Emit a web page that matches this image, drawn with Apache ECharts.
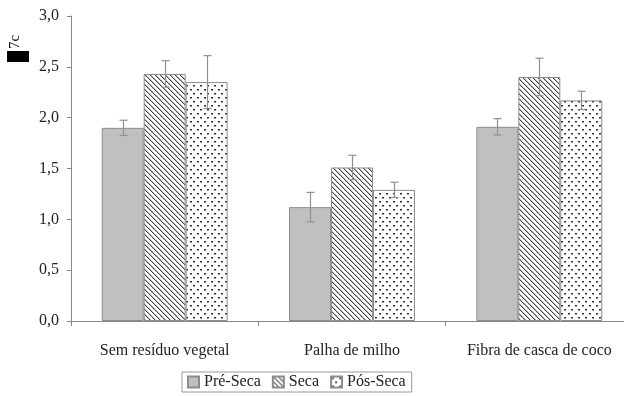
<!DOCTYPE html>
<html>
<head>
<meta charset="utf-8">
<script src="https://cdn.jsdelivr.net/npm/echarts@6/dist/echarts.min.js"></script>
<style>
  html, body { margin: 0; padding: 0; background: #fff; }
  #chart { width: 624px; height: 396px; }
</style>
</head>
<body>
<div id="chart"></div>
<script>
// Treatments (x categories)
const categories = ['Sem resíduo vegetal', 'Palha de milho', 'Fibra de casca de coco'];
// Period series names
const seriesNames = ['Pré-Seca', 'Seca', 'Pós-Seca'];
// Mean values per period
const preSeca = [1.90, 1.12, 1.91];
const seca    = [2.43, 1.51, 2.40];
const posSeca = [2.35, 1.29, 2.17];
// Error bar half-lengths per period
const preSecaErr = [0.075, 0.145, 0.08];
const secaErr    = [0.13, 0.12, 0.185];
const posSecaErr = [0.26, 0.075, 0.09];
// Y axis ticks
const yTicks = [0, 0.5, 1.0, 1.5, 2.0, 2.5, 3.0];

const FONT = '"Liberation Serif", "DejaVu Serif", serif';
const CAT_GAP = 0.328;

// Fill patterns
function hatchPattern() {
  const c = document.createElement('canvas');
  c.width = 5; c.height = 5;
  const g = c.getContext('2d');
  g.fillStyle = '#ffffff';
  g.fillRect(0, 0, 5, 5);
  for (let i = 0; i < 5; i++) {
    g.fillStyle = '#404040';
    g.fillRect(i, i, 1, 1);
    g.fillStyle = '#bdbdbd';
    g.fillRect((i + 1) % 5, i, 1, 1);
  }
  return c;
}
function dotPattern() {
  const c = document.createElement('canvas');
  c.width = 7; c.height = 8;
  const g = c.getContext('2d');
  g.fillStyle = '#ffffff';
  g.fillRect(0, 0, 7, 8);
  g.fillStyle = '#2a2a2a';
  g.fillRect(1, 1, 2, 1);
  g.fillRect(4, 5, 2, 1);
  g.fillStyle = '#9a9a9a';
  g.fillRect(1, 2, 2, 1);
  g.fillRect(4, 6, 2, 1);
  return c;
}

const fills = [
  '#c0c0c0',
  { image: hatchPattern(), repeat: 'repeat' },
  { image: dotPattern(), repeat: 'repeat' }
];
const values = [preSeca, seca, posSeca];
const errors = [preSecaErr, secaErr, posSecaErr];

const barSeries = seriesNames.map((name, k) => ({
  name: name,
  type: 'bar',
  data: values[k],
  barGap: '0%',
  barCategoryGap: (CAT_GAP * 100) + '%',
  itemStyle: { color: fills[k], borderColor: '#8c8c8c', borderWidth: 1 },
  emphasis: { disabled: true },
  z: 2
}));

const errData = [];
for (let k = 0; k < 3; k++) {
  for (let i = 0; i < categories.length; i++) {
    errData.push([i, values[k][i] - errors[k][i], values[k][i] + errors[k][i], k]);
  }
}

const errorSeries = {
  type: 'custom',
  name: 'err',
  data: errData,
  z: 5,
  silent: true,
  encode: { x: 0, y: [1, 2] },
  renderItem: function (params, api) {
    const i = api.value(0);
    const k = api.value(3);
    const catW = api.size([1, 0])[0];
    const barW = catW * (1 - CAT_GAP) / 3;
    const off = (k - 1) * barW;
    const lo = api.coord([i, api.value(1)]);
    const hi = api.coord([i, api.value(2)]);
    const x = Math.round(lo[0] + off) + 0.5;
    const cap = 4;
    const style = { stroke: '#909090', lineWidth: 1.2, fill: null };
    return {
      type: 'group',
      children: [
        { type: 'line', shape: { x1: x, y1: lo[1], x2: x, y2: hi[1] }, style: style },
        { type: 'line', shape: { x1: x - cap, y1: hi[1], x2: x + cap, y2: hi[1] }, style: style },
        { type: 'line', shape: { x1: x - cap, y1: lo[1], x2: x + cap, y2: lo[1] }, style: style }
      ]
    };
  }
};

const chart = echarts.init(document.getElementById('chart'), null, { renderer: 'canvas' });
chart.setOption({
  animation: false,
  backgroundColor: '#ffffff',
  grid: { left: 71, top: 16, width: 562, height: 305, outerBoundsMode: 'none', containLabel: false },
  legend: {
    data: seriesNames,
    icon: 'rect',
    left: 182,
    top: 372,
    itemWidth: 11,
    itemHeight: 11,
    itemGap: 11,
    padding: [2, 6, 2, 5],
    borderColor: '#999',
    borderWidth: 1,
    borderRadius: 0,
    selectedMode: false,
    textStyle: { fontFamily: FONT, fontSize: 16, color: '#222', padding: [0, 0, 0, 0] }
  },
  xAxis: {
    type: 'category',
    data: categories,
    axisLine: { lineStyle: { color: '#888', width: 1 } },
    axisTick: { show: true, length: 5, lineStyle: { color: '#888' } },
    axisLabel: { interval: 0, hideOverlap: false, fontFamily: FONT, fontSize: 16, color: '#222', margin: 22 }
  },
  yAxis: {
    type: 'value',
    min: yTicks[0],
    max: yTicks[yTicks.length - 1],
    interval: 0.5,
    splitLine: { show: false },
    axisLine: { show: true, lineStyle: { color: '#888', width: 1 } },
    axisTick: { show: true, length: 4, lineStyle: { color: '#888' } },
    axisLabel: {
      fontFamily: FONT, fontSize: 16, color: '#222', margin: 12,
      formatter: v => v.toFixed(1).replace('.', ',')
    }
  },
  graphic: [
    { type: 'rect', shape: { x: 7, y: 51, width: 22, height: 11 }, style: { fill: '#000' } },
    {
      type: 'text', x: 15, y: 42, rotation: Math.PI / 2,
      style: { text: '7c', font: '15px ' + FONT, fill: '#111', align: 'center', verticalAlign: 'middle' }
    }
  ],
  series: barSeries.concat([errorSeries])
});
</script>
</body>
</html>
